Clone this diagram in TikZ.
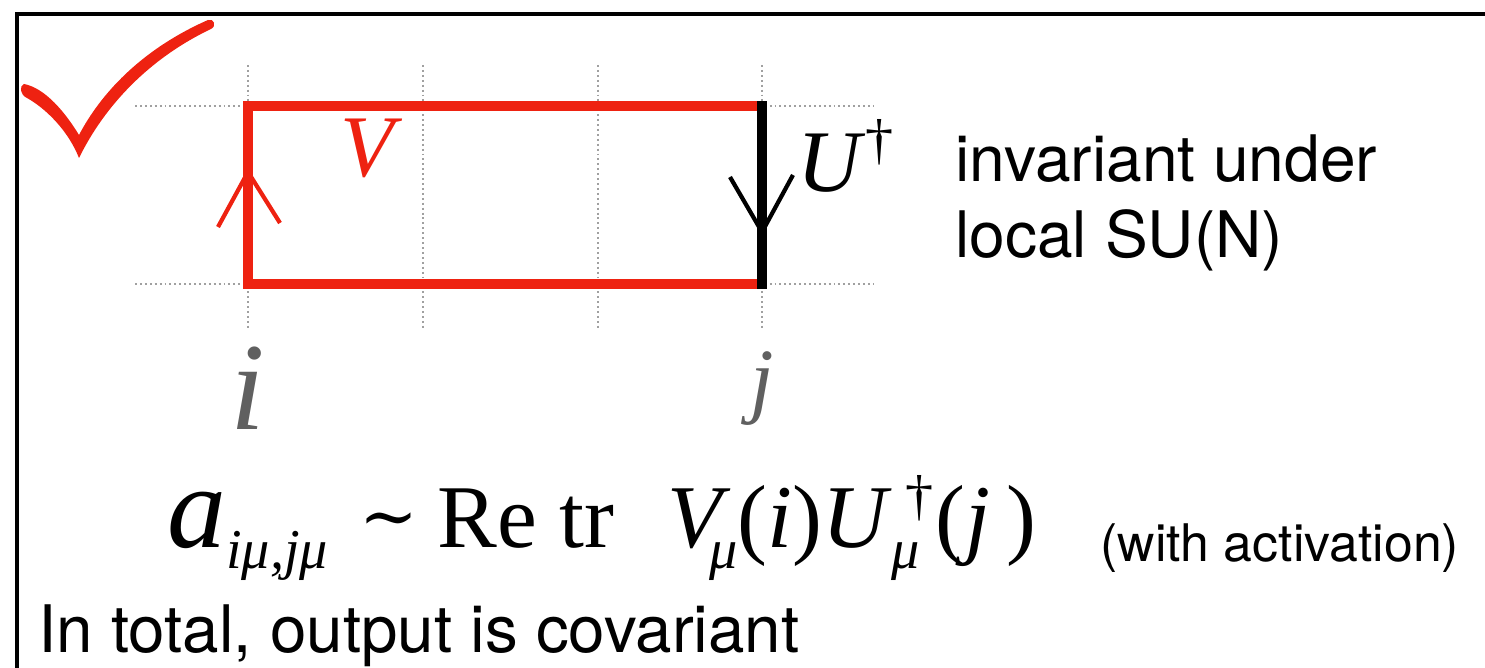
\documentclass[tikz,border=0pt]{standalone}
\usepackage{fontspec}
\setmainfont{Liberation Serif}
\setsansfont{TeX Gyre Heros}
\newfontfamily\simfont{DejaVu Serif}
\usetikzlibrary{calc}
\definecolor{linkred}{HTML}{EE2211}
\definecolor{gridgray}{HTML}{A0A0A0}
\definecolor{sitegray}{HTML}{606060}
\newcommand{\fsz}[1]{\fontsize{#1}{#1}\selectfont}
\newcommand{\lowsub}[1]{\raisebox{-11.4pt}{\fsz{32}\itshape #1}}

\begin{document}
\begin{tikzpicture}[
  x=0.02cm, y=-0.02cm,
  grid/.style={gridgray, line width=1.1pt, dash pattern=on 1.1pt off 1.7pt},
  redlink/.style={linkred, line width=5.7pt, line join=miter},
  blacklink/.style={black, line width=5.2pt, line cap=rect},
  barb/.style={line width=2.4pt},
  lbl/.style={inner sep=0pt, anchor=base},
  txt/.style={inner sep=0pt, anchor=base west, font=\fontsize{36.5}{43}\selectfont\sffamily}
]
  \useasboundingbox (0,0) rectangle (1485,668);
  \clip (0,0) rectangle (1485,668);

  % frame, runs off at right and bottom
  \draw[line width=2.4pt] (17,700) -- (17,14) -- (1500,14);

  % check mark
  \fill[linkred] (24,84) .. controls (45,88) and (65,112) .. (79,135)
    .. controls (100,95) and (140,50) .. (208,20)
    .. controls (214,18) and (217,26) .. (211,29)
    .. controls (150,58) and (105,105) .. (79,158)
    .. controls (68,130) and (45,108) .. (27,98)
    .. controls (20,95) and (19,86) .. (24,84) -- cycle;

  % lattice sites
  \coordinate (i0) at (248,284);
  \coordinate (i1) at (248,106);
  \coordinate (j0) at (762,284);
  \coordinate (j1) at (762,106);

  % dotted grid
  \foreach \x in {248,423,598,762}
    \draw[grid] (\x,65) -- (\x,330);
  \draw[grid] (135,106) -- (873,106);
  \draw[grid] (135,284) -- (873,284);

  % links
  \draw[redlink] (j1) -- (i1) -- (i0) -- (j0);
  \draw[blacklink] (j1) -- (j0);

  % arrow heads
  \coordinate (upV) at (248,172);
  \coordinate (dnU) at (762,232);
  \draw[barb, linkred] ($(upV)+(-30,55)$) -- (upV) -- ($(upV)+(32,51)$);
  \draw[barb] ($(dnU)+(-32,-55)$) -- (dnU) -- ($(dnU)+(31,-57)$);

  % link and site labels
  \node[lbl, linkred, font=\fsz{50}\itshape] (Vlab) at (367,177) {V};
  \node[lbl, anchor=base west, font=\fsz{50}] (Ulab) at (797,192)
    {\textit{U}\raisebox{19pt}{\fsz{32}†}};
  \node[lbl, sitegray, font=\fsz{71}\itshape] (ilab) at (248,430) {i};
  \node[lbl, sitegray, font=\fsz{48}\itshape] (jlab) at (762,408) {j};

  % texts
  \node[txt] (inv1) at (955,182) {invariant under};
  \node[txt] (inv2) at (955,258) {local SU(N)};
  \node[lbl, anchor=base west, font=\fsz{51}] (formula) at (167,548)
    {{\fsz{67}\itshape a}\hspace{0pt}\lowsub{iμ,jμ}\hspace{18pt}\raisebox{4pt}{\fsz{40}\simfont ∼}\hspace{11pt}Re tr\hspace{30pt}\textit{V}\hspace{-12pt}\lowsub{μ}(\textit{i})\textit{U}\hspace{0pt}\rlap{\hspace{8pt}\raisebox{19pt}{\fsz{32}†}}\lowsub{μ}\hspace{9pt}(\textit{j}\hspace{9pt})};
  \node[txt, font=\fsz{29.5}\sffamily] (act) at (1100,562) {(with activation)};
  \node[txt, font=\fsz{37.3}\sffamily] (total) at (38,653) {In total, output is covariant};
\end{tikzpicture}
\end{document}
